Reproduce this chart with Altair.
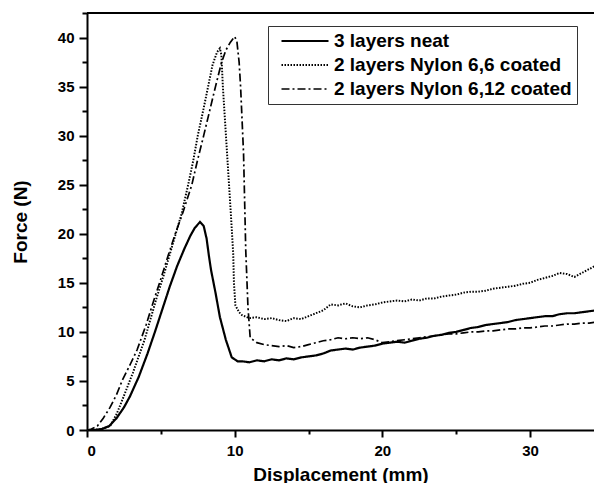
import altair as alt
import pandas as pd

# ---- data ----
series_names = ["3 layers neat", "2 layers Nylon 6,6 coated", "2 layers Nylon 6,12 coated"]

neat_x = [0, 0.5, 1.0, 1.5, 2.0, 2.5, 2.9, 3.5, 4.1, 4.6, 5.1, 5.6, 6.1, 6.6, 7.0, 7.3, 7.65,
          7.9, 8.1, 8.25, 8.4, 8.7, 9.0, 9.4, 9.8, 10.2,
          10.5, 11, 11.5, 12, 12.5, 13, 13.5, 14, 14.5, 15, 15.5, 16, 16.5, 17, 17.5, 18, 18.5,
          19, 19.5, 20, 20.5, 21, 21.5, 22, 22.5, 23, 23.5, 24, 24.5, 25, 25.5, 26, 26.5, 27,
          27.5, 28, 28.5, 29, 29.5, 30, 30.5, 31, 31.5, 32, 32.5, 33, 33.5, 34, 34.5, 35]
neat_y = [0, 0, 0.1, 0.4, 1.2, 2.3, 3.4, 5.4, 7.8, 10.0, 12.3, 14.6, 16.7, 18.5, 19.8, 20.6, 21.2,
          20.8, 19.5, 17.8, 16.3, 14.0, 11.5, 9.2, 7.4, 7.0,
          7.0, 6.9, 7.1, 7.0, 7.2, 7.1, 7.3, 7.2, 7.4, 7.5, 7.6, 7.8, 8.1, 8.2, 8.3, 8.2, 8.4,
          8.5, 8.6, 8.8, 8.9, 9.0, 8.9, 9.1, 9.3, 9.4, 9.6, 9.7, 9.9, 10.0, 10.2, 10.4, 10.5, 10.7,
          10.8, 10.9, 11.0, 11.2, 11.3, 11.4, 11.5, 11.6, 11.6, 11.8, 11.9, 11.9, 12.0, 12.1, 12.2, 12.3]

n66_x = [0, 0.5, 1.0, 1.56, 2.0, 2.4, 3.1, 3.9, 4.7, 5.2, 5.7, 6.2, 6.4, 6.85, 7.2, 7.5, 7.9,
         8.2, 8.5, 8.8, 9.0, 9.1, 9.2, 9.5, 9.75, 9.9, 9.95, 10.05, 10.3,
         10.5, 11, 11.5, 12, 12.5, 13, 13.5, 14, 14.5, 15, 15.5, 16, 16.5, 17, 17.5, 18, 18.5,
         19, 19.5, 20, 20.5, 21, 21.5, 22, 22.5, 23, 23.5, 24, 24.5, 25, 25.5, 26, 26.5, 27,
         27.5, 28, 28.5, 29, 29.5, 30, 30.5, 31, 31.5, 32, 32.5, 33, 33.5, 34, 34.5, 35]
n66_y = [0, 0, 0.1, 0.4, 1.6, 3.1, 5.8, 9.2, 13.4, 15.8, 18.4, 21.0, 22.0, 25.0, 27.5, 30.0, 32.8,
         35.0, 37.2, 38.5, 38.9, 38.2, 35.0, 27.8, 21.8, 18.0, 15.0, 12.7, 12.0,
         11.7, 11.4, 11.5, 11.3, 11.4, 11.2, 11.1, 11.4, 11.3, 11.6, 11.9, 12.2, 12.8, 12.7, 12.9, 12.6, 12.5,
         12.7, 12.8, 13.0, 13.1, 13.2, 13.1, 13.3, 13.2, 13.4, 13.4, 13.6, 13.7, 13.8, 14.0, 14.1, 14.1, 14.2,
         14.4, 14.5, 14.6, 14.7, 14.9, 15.0, 15.3, 15.5, 15.7, 16.0, 15.9, 15.6, 16.0, 16.4, 16.8, 17.0]

n612_x = [0, 0.3, 0.7, 1.1, 1.56, 2.0, 2.4, 2.9, 3.4, 4.0, 4.5, 5.0, 5.5, 6.0, 6.5, 7.1, 7.5, 7.9,
          8.3, 8.7, 9.1, 9.4, 9.7, 10.0, 10.15, 10.3, 10.4, 10.6, 10.75, 10.9, 11.05,
          11.5, 12, 12.5, 13, 13.5, 14, 14.5, 15, 15.5, 16, 16.5, 17, 17.5, 18, 18.5,
          19, 19.5, 20, 20.5, 21, 21.5, 22, 22.5, 23, 23.5, 24, 24.5, 25, 25.5, 26, 26.5, 27,
          27.5, 28, 28.5, 29, 29.5, 30, 30.5, 31, 31.5, 32, 32.5, 33, 33.5, 34, 34.5, 35]
n612_y = [0, 0.1, 0.4, 1.2, 2.3, 3.6, 5.1, 6.6, 8.2, 10.7, 13.1, 15.4, 17.8, 20.1, 22.2, 25.0, 27.6, 30.0,
          32.5, 35.0, 37.4, 38.7, 39.5, 40.1, 39.6, 37.5, 35.0, 28.2, 18.3, 12.5, 9.4,
          8.9, 8.7, 8.6, 8.5, 8.6, 8.4, 8.5, 8.7, 8.9, 9.1, 9.2, 9.4, 9.3, 9.4, 9.3,
          9.4, 9.2, 8.9, 9.0, 9.1, 9.2, 9.3, 9.4, 9.5, 9.6, 9.7, 9.8, 9.8, 9.9, 10.0, 10.0, 10.1,
          10.1, 10.2, 10.3, 10.3, 10.4, 10.4, 10.5, 10.6, 10.6, 10.7, 10.8, 10.8, 10.9, 10.9, 11.0, 11.0]

x_tick_values = [0, 5, 10, 15, 20, 25, 30]
y_tick_values = [0, 2.5, 5, 7.5, 10, 12.5, 15, 17.5, 20, 22.5, 25, 27.5, 30, 32.5, 35, 37.5, 40, 42.5]

frames = []
for name, xs, ys in [(series_names[0], neat_x, neat_y),
                     (series_names[1], n66_x, n66_y),
                     (series_names[2], n612_x, n612_y)]:
    frames.append(pd.DataFrame({"x": xs, "y": ys, "series": name}))
df = pd.concat(frames, ignore_index=True)

FONT = "Liberation Sans"
W, H = 507, 417

x_scale = alt.Scale(domain=[0, 34.33], nice=False, zero=False)
y_scale = alt.Scale(domain=[0, 42.5], nice=False, zero=False)

lines = alt.Chart(df).mark_line(clip=True, color="black").encode(
    x=alt.X("x:Q", scale=x_scale, title="Displacement (mm)",
            axis=alt.Axis(values=x_tick_values,
                          labelExpr="datum.value % 10 === 0 ? datum.label : ''",
                          tickSize={"condition": {"test": "datum.value % 10 !== 0", "value": 4}, "value": 7},
                          labelPadding=6, titlePadding=7)),
    y=alt.Y("y:Q", scale=y_scale, title="Force (N)",
            axis=alt.Axis(values=y_tick_values,
                          labelExpr="datum.value % 5 === 0 ? datum.label : ''",
                          tickSize={"condition": {"test": "datum.value % 5 !== 0", "value": 5}, "value": 8},
                          labelPadding=5, titlePadding=27)),
    strokeDash=alt.StrokeDash("series:N",
                              scale=alt.Scale(domain=series_names,
                                              range=[[1, 0], [1.5, 1.5], [8, 3, 2, 3]]),
                              sort=series_names,
                              legend=alt.Legend(orient="none", legendX=181, legendY=13, title=None,
                                                strokeColor="#333", padding=5,
                                                symbolType="stroke", symbolSize=2209,
                                                symbolOffset=7,
                                                symbolStrokeWidth=2, symbolStrokeColor="black",
                                                clipHeight=20, rowPadding=4, labelOffset=4,
                                                labelFont=FONT, labelFontSize=19,
                                                labelFontWeight="bold", labelColor="black",
                                                labelExpr="datum.label + '\u00a0\u00a0'",
                                                labelLimit=400)),
    strokeWidth=alt.StrokeWidth("series:N",
                                scale=alt.Scale(domain=series_names, range=[2.2, 1.7, 2.2]),
                                legend=None),
)

top_frame = alt.Chart(df).mark_rule(color="black", strokeWidth=2).encode(
    x=alt.value(0), x2=alt.value(W), y=alt.value(0)
)

chart = alt.layer(lines, top_frame).properties(
    width=W, height=H,
    autosize=alt.AutoSizeParams(type="none"),
    padding={"left": 79, "top": 5, "right": 0, "bottom": 53},
).configure_view(stroke=None).configure_axis(
    grid=False, domainColor="black", domainWidth=2, tickColor="black", tickWidth=2,
    labelFont=FONT, labelFontSize=15, labelFontWeight="bold", labelColor="black",
    titleFont=FONT, titleFontSize=19, titleFontWeight="bold", titleColor="black",
)

chart.save("out.html", embed_options={"renderer": "svg", "actions": False})
